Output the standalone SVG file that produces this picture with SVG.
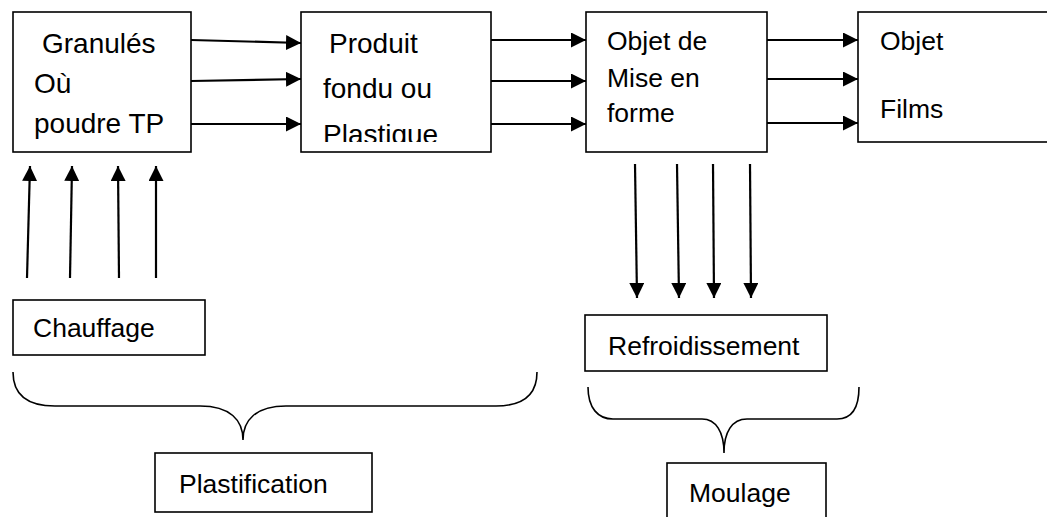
<svg xmlns="http://www.w3.org/2000/svg" width="1047" height="517" viewBox="0 0 1047 517">
  <style>
    .box { fill: #ffffff; stroke: #000000; stroke-width: 1.6; }
    .lbl { font-family: "Liberation Sans", Arial, sans-serif; font-size: 26.5px; fill: #000000; }
    .big { font-size: 28px; }
    .arrow { stroke: #000000; stroke-width: 2.2; fill: none; marker-end: url(#head); }
    .brace { stroke: #000000; stroke-width: 1.6; fill: none; }
  </style>
  <defs>
    <marker id="head" markerUnits="userSpaceOnUse" markerWidth="15" markerHeight="15" refX="15" refY="7.5" orient="auto">
      <path d="M0,0 L15,7.5 L0,15 Z" fill="#000000"/>
    </marker>
    <clipPath id="clip-produit">
      <rect x="301" y="12" width="190" height="130"/>
    </clipPath>
  </defs>
  <rect width="1047" height="517" fill="#ffffff"/>

  <!-- process chain boxes -->
  <g id="granules">
    <rect class="box" x="13" y="12" width="178" height="140"/>
    <text class="lbl big" x="42" y="53">Granulés</text>
    <text class="lbl big" x="34" y="93">Où</text>
    <text class="lbl big" x="34" y="133">poudre TP</text>
  </g>
  <g id="produit">
    <rect class="box" x="301" y="12" width="190" height="140"/>
    <g clip-path="url(#clip-produit)">
      <text class="lbl big" x="329" y="53">Produit</text>
      <text class="lbl big" x="323" y="98">fondu ou</text>
      <text class="lbl big" x="323" y="144">Plastique</text>
    </g>
  </g>
  <g id="objet-forme">
    <rect class="box" x="586" y="12" width="181" height="140"/>
    <text class="lbl" x="607" y="50">Objet de</text>
    <text class="lbl" x="607" y="87">Mise en</text>
    <text class="lbl" x="607" y="122">forme</text>
  </g>
  <g id="objet-films">
    <rect class="box" x="858" y="12" width="200" height="130"/>
    <text class="lbl" x="880" y="50">Objet</text>
    <text class="lbl" x="880" y="118">Films</text>
  </g>

  <!-- side boxes -->
  <g id="chauffage">
    <rect class="box" x="13" y="300" width="192" height="55"/>
    <text class="lbl" x="33" y="337">Chauffage</text>
  </g>
  <g id="refroidissement">
    <rect class="box" x="585" y="315" width="242" height="56"/>
    <text class="lbl" x="608" y="355">Refroidissement</text>
  </g>
  <g id="plastification">
    <rect class="box" x="155" y="453" width="217" height="59"/>
    <text class="lbl" x="179" y="493">Plastification</text>
  </g>
  <g id="moulage">
    <rect class="box" x="667" y="463" width="159" height="70"/>
    <text class="lbl" x="689" y="502">Moulage</text>
  </g>

  <!-- connectors -->
  <g id="connectors">
    <line class="arrow" x1="191" y1="40" x2="301" y2="43"/>
    <line class="arrow" x1="191" y1="81" x2="301" y2="79"/>
    <line class="arrow" x1="191" y1="124" x2="301" y2="124"/>

    <line class="arrow" x1="491" y1="40" x2="586" y2="40"/>
    <line class="arrow" x1="491" y1="81" x2="586" y2="81"/>
    <line class="arrow" x1="491" y1="124" x2="586" y2="124"/>

    <line class="arrow" x1="767" y1="40" x2="858" y2="40"/>
    <line class="arrow" x1="767" y1="79" x2="858" y2="79"/>
    <line class="arrow" x1="767" y1="123" x2="858" y2="123"/>

    <line class="arrow" x1="27" y1="278" x2="30" y2="166"/>
    <line class="arrow" x1="70" y1="278" x2="72" y2="166"/>
    <line class="arrow" x1="119" y1="278" x2="118" y2="166"/>
    <line class="arrow" x1="156" y1="278" x2="156" y2="166"/>

    <line class="arrow" x1="635" y1="164" x2="637" y2="298"/>
    <line class="arrow" x1="677" y1="164" x2="679" y2="298"/>
    <line class="arrow" x1="713" y1="164" x2="714" y2="298"/>
    <line class="arrow" x1="750" y1="164" x2="751" y2="298"/>

    <path class="brace" d="M13,372 C13,396 28,406 55,406 L200,406 C230,406 243,420 243,440 C243,420 256,406 286,406 L496,406 C522,406 537,396 537,372"/>
    <path class="brace" d="M588,387 C588,408 598,419 613,419 L702,419 C716,419 724,432 724,453 C724,432 732,419 747,419 L837,419 C852,419 859,408 859,387"/>
  </g>
</svg>
